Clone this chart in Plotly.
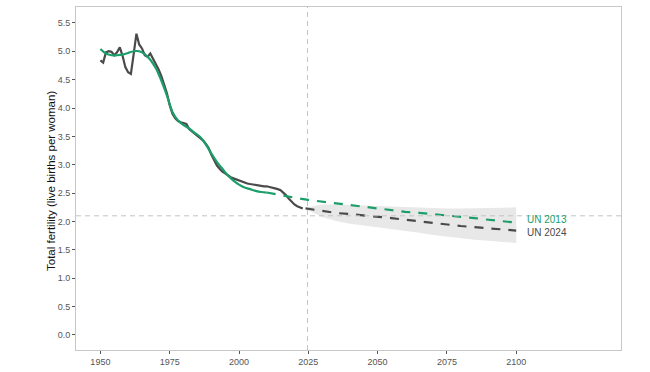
import plotly.graph_objects as go

# UN 2024 estimates (annual)
est_years = list(range(1950, 2024))
est_tfr = [4.84, 4.80, 4.98, 5.00, 4.99, 4.93, 4.98, 5.07, 4.92, 4.72,
           4.63, 4.60, 4.95, 5.31, 5.12, 5.05, 4.93, 4.90, 4.96, 4.86,
           4.79, 4.68, 4.56, 4.42, 4.26, 4.05, 3.90, 3.82, 3.77, 3.75,
           3.73, 3.72, 3.63, 3.59, 3.56, 3.52, 3.48, 3.43, 3.37, 3.30,
           3.18, 3.07, 2.99, 2.93, 2.88, 2.85, 2.81, 2.78, 2.76, 2.74,
           2.72, 2.70, 2.68, 2.67, 2.66, 2.65, 2.64, 2.63, 2.63, 2.62,
           2.62, 2.61, 2.59, 2.59, 2.57, 2.55, 2.51, 2.46, 2.40, 2.34,
           2.30, 2.27, 2.25, 2.23]

# UN 2024 projection (median and interval)
proj_years = [2024, 2030, 2035, 2040, 2045, 2050, 2055, 2060, 2065, 2070,
              2075, 2080, 2085, 2090, 2095, 2100]
proj_tfr = [2.23, 2.18, 2.15, 2.13, 2.11, 2.09, 2.06, 2.03, 2.00, 1.97,
            1.94, 1.92, 1.90, 1.88, 1.86, 1.84]
proj_low = [2.22, 2.08, 2.01, 1.96, 1.93, 1.90, 1.86, 1.83, 1.80, 1.76,
            1.73, 1.71, 1.68, 1.66, 1.64, 1.62]
proj_high = [2.24, 2.30, 2.30, 2.29, 2.28, 2.28, 2.27, 2.26, 2.25, 2.24,
             2.23, 2.23, 2.23, 2.23, 2.24, 2.25]

# UN 2013 estimates and projection
old_est_years = [1950, 1952, 1954, 1956, 1958, 1960, 1962, 1964, 1966, 1968,
                 1970, 1972, 1974, 1976, 1978, 1980, 1982, 1984, 1986, 1988,
                 1990, 1992, 1994, 1996, 1998, 2000, 2002, 2004, 2006, 2008, 2010]
old_est_tfr = [5.04, 4.96, 4.93, 4.93, 4.94, 4.97, 5.00, 5.00, 4.95, 4.85,
               4.70, 4.48, 4.22, 3.93, 3.78, 3.70, 3.64, 3.56, 3.49, 3.36,
               3.20, 3.05, 2.93, 2.81, 2.72, 2.65, 2.60, 2.57, 2.54, 2.52, 2.51]
old_proj_years = [2010, 2015, 2020, 2025, 2030, 2035, 2040, 2045, 2050, 2055,
                  2060, 2065, 2070, 2075, 2080, 2085, 2090, 2095, 2100]
old_proj_tfr = [2.51, 2.46, 2.42, 2.38, 2.35, 2.31, 2.28, 2.25, 2.22, 2.19,
                2.17, 2.15, 2.13, 2.11, 2.08, 2.06, 2.03, 2.00, 1.98]

y_ticks = [0.0, 0.5, 1.0, 1.5, 2.0, 2.5, 3.0, 3.5, 4.0, 4.5, 5.0, 5.5]
x_ticks = [1950, 1975, 2000, 2025, 2050, 2075, 2100]
REPLACEMENT = 2.1
BASE_YEAR = 2024.7
labels = ["UN 2013", "UN 2024"]
label_y = [2.03, 1.81]
y_title = "Total fertility (live births per woman)"

GREEN = "#1b9e6a"
GRAY = "#4a4a4a"

fig = go.Figure()
fig.add_trace(go.Scatter(x=proj_years, y=proj_high, mode="lines",
                         line=dict(width=0), hoverinfo="skip", showlegend=False))
fig.add_trace(go.Scatter(x=proj_years, y=proj_low, mode="lines", fill="tonexty",
                         fillcolor="rgba(200,200,200,0.42)",
                         line=dict(width=0), hoverinfo="skip", showlegend=False))
fig.add_trace(go.Scatter(x=est_years, y=est_tfr, mode="lines",
                         line=dict(color=GRAY, width=2.2), showlegend=False))
fig.add_trace(go.Scatter(x=old_est_years, y=old_est_tfr, mode="lines",
                         line=dict(color=GREEN, width=2.2, shape="spline"),
                         showlegend=False))
fig.add_trace(go.Scatter(x=old_proj_years, y=old_proj_tfr, mode="lines",
                         line=dict(color=GREEN, width=2.2, dash="9px,8px"),
                         showlegend=False))
fig.add_trace(go.Scatter(x=proj_years, y=proj_tfr, mode="lines",
                         line=dict(color=GRAY, width=2.2, dash="9px,8px"),
                         showlegend=False))

fig.add_hline(y=REPLACEMENT, line=dict(color="#c4c4c4", width=1, dash="5px,4px"))
fig.add_vline(x=BASE_YEAR, line=dict(color="#c4c4c4", width=1, dash="5px,4px"))

for txt, yv, col in zip(labels, label_y, [GREEN, GRAY]):
    fig.add_annotation(x=2103.5, y=yv, text=txt, showarrow=False,
                       xanchor="left", yanchor="middle", borderpad=0,
                       font=dict(color=col, size=10))

fig.add_annotation(xref="paper", yref="paper", x=0, y=0.5, xshift=-25.5,
                   yshift=-3, text=y_title, textangle=-90, showarrow=False,
                   xanchor="center", yanchor="middle",
                   font=dict(size=11.5, color="#111111"))

axis_common = dict(showgrid=False, zeroline=False, showline=True, mirror=True,
                   linecolor="#c8c8c8", linewidth=1, ticks="outside", ticklen=3,
                   tickcolor="#555555", tickwidth=1, automargin=False,
                   tickfont=dict(size=9, color="#555555"))

fig.update_layout(
    width=650, height=372,
    margin=dict(l=76, r=29, t=7, b=22),
    paper_bgcolor="white", plot_bgcolor="white",
    font=dict(family="Liberation Sans, Arial, sans-serif"),
    xaxis=dict(range=[1941.2, 2137.8], tickvals=x_ticks,
               ticktext=[str(v) for v in x_ticks], **axis_common),
    yaxis=dict(range=[-0.265, 5.78], tickvals=y_ticks,
               ticktext=[f"{v:.1f}" for v in y_ticks], **axis_common),
)

fig.write_html("out.html", config={"displayModeBar": False},
               post_script="document.body.style.margin='0';")
